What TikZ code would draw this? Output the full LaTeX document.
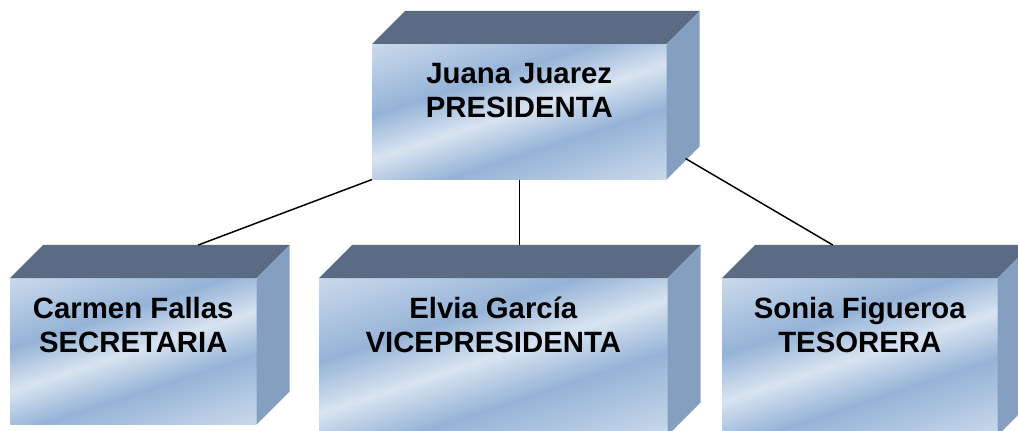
\documentclass[tikz,border=0pt]{standalone}
\usepackage{fontspec}
\setmainfont{Liberation Sans}
\definecolor{claro}{HTML}{DCE6F2}
\definecolor{oscuro}{HTML}{95B3D7}
\definecolor{colTapa}{HTML}{5B6B84}
\definecolor{colLado}{HTML}{849FBF}
\pgfdeclareverticalshading{frente}{100bp}{color(0bp)=(claro); color(12bp)=(claro);
color(38bp)=(oscuro); color(50bp)=(claro!95!oscuro); color(62bp)=(oscuro);
color(88bp)=(claro); color(100bp)=(claro)}
\tikzstyle{caja}=[rectangle,anchor=north west,inner sep=0pt,
shading=frente,shading angle=18]
\tikzstyle{tapa}=[fill=colTapa]
\tikzstyle{lado}=[fill=colLado]
\tikzstyle{nombre}=[font=\bfseries\fontsize{22}{25.5}\selectfont,
align=center,anchor=north,inner sep=0pt,text=black]
\tikzstyle{enlace}=[line width=1.1pt]

\begin{document}
\begin{tikzpicture}[x=0.75pt,y=-0.75pt]
\useasboundingbox (0,0) rectangle (1018,431);
\clip (0,0) rectangle (1018,431);
\node[caja,minimum width=220.5pt,minimum height=101.25pt] (P) at (372,44) {};
\node[caja,minimum width=184.5pt,minimum height=109.5pt] (S) at (10,278) {};
\node[caja,minimum width=261pt,minimum height=117.75pt] (V) at (319,278) {};
\node[caja,minimum width=206.25pt,minimum height=117.75pt] (T) at (722,278) {};
\foreach \nodo in {P,S,V,T}{
\fill[tapa] (\nodo.north west) -- ++(33,-33) -- ([shift={(33,-33)}]\nodo.north east)
  -- (\nodo.north east) -- cycle;
\fill[lado] (\nodo.north east) -- ([shift={(33,-33)}]\nodo.north east)
  -- ([shift={(33,-33)}]\nodo.south east) -- (\nodo.south east) -- cycle;
}
\node[nombre] (Pn) at ([yshift=-14pt]P.north) {Juana Juarez\\PRESIDENTA};
\node[nombre] (Sn) at ([yshift=-14pt]S.north) {Carmen Fallas\\SECRETARIA};
\node[nombre] (Vn) at ([yshift=-14pt]V.north) {Elvia García\\VICEPRESIDENTA};
\node[nombre] (Tn) at ([yshift=-14pt]T.north) {Sonia Figueroa\\TESORERA};

\coordinate (S-arr) at ([shift={(65,-33)}]S.north);
\coordinate (V-arr) at ([shift={(26,-33)}]V.north);
\coordinate (T-arr) at ([shift={(-27,-33)}]T.north);
\coordinate (P-lado) at ([shift={(19,-21)}]P.south east);
\draw[enlace] (P.south west) -- (S-arr);
\draw[enlace] (P.south) -- (V-arr);
\draw[enlace] (P-lado) -- (T-arr);
\end{tikzpicture}
\end{document}
